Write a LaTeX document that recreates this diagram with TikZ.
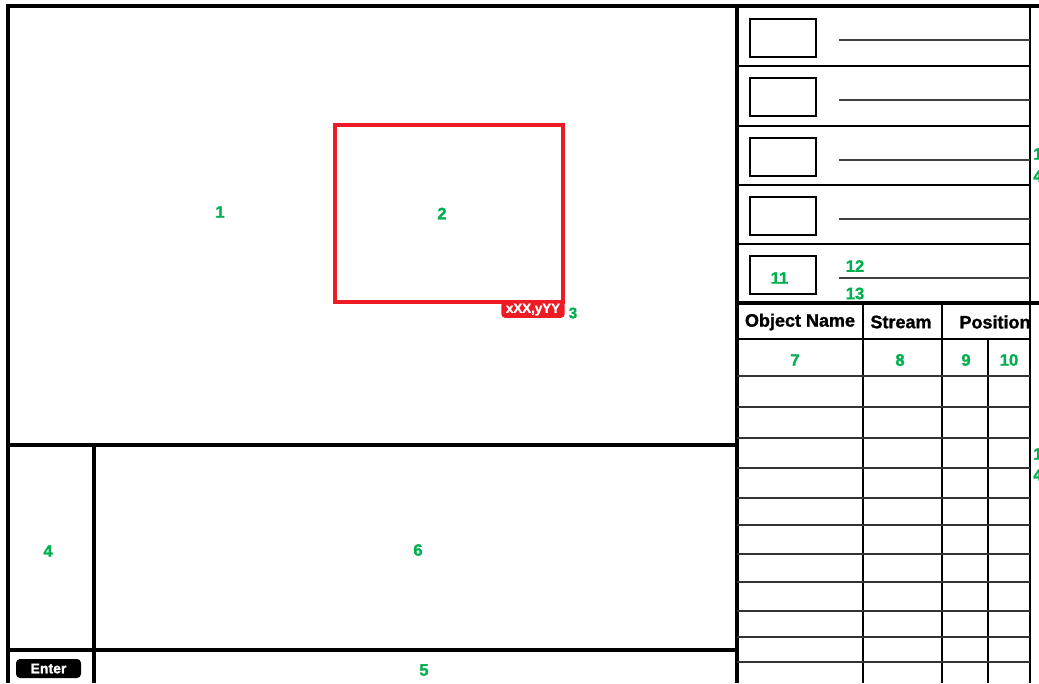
\documentclass[tikz,border=0pt]{standalone}
\usepackage{fontspec}
\setmainfont{Liberation Sans}
\newfontfamily\heavyfont{Liberation Sans}[BoldFeatures={FakeBold=1.2}]
\definecolor{lblgreen}{RGB}{0,176,80}
\definecolor{boxred}{RGB}{237,28,36}
\begin{document}
\begin{tikzpicture}[x=0.75pt,y=-0.75pt,
  thickline/.style={line width=2.4pt,black},
  medline/.style={line width=1.8pt,black},
  thinline/.style={line width=0.9pt,black!75},
  rowline/.style={line width=1.2pt,black!80},
  smallbox/.style={draw,line width=1.8pt},
  num/.style={text=lblgreen,font=\heavyfont\fontsize{12.5}{14}\selectfont\bfseries,inner sep=0pt},
  head/.style={font=\heavyfont\fontsize{13.5}{16}\selectfont\bfseries,inner sep=0pt},
  ]
\useasboundingbox[fill=white] (0,0) rectangle (1039,683);
% main frame
\draw[thickline] (8,683) -- (8,6) -- (1039,6);
\draw[thickline] (737,6) -- (737,683);
\draw[thickline] (8,445) -- (737,445);
\draw[thickline] (8,650) -- (737,650);
\draw[thickline] (94,445) -- (94,683);
% right panel
\draw[medline] (1030,6) -- (1030,683);
\foreach \yy in {66,126,185,244}
  \draw[medline] (737,\yy) -- (1030,\yy);
\draw[thickline] (737,303) -- (1039,303);
\draw[medline] (737,339) -- (1030,339);
\draw[medline] (863,303) -- (863,683);
\draw[medline] (942,303) -- (942,683);
\draw[medline] (988,339) -- (988,683);
\foreach \yy in {376,407,438,468,498,525,554,582,611,637,662}
  \draw[rowline] (737,\yy) -- (1030,\yy);
\foreach \yy in {19,78,138,197,256}
  \draw[smallbox] (750,\yy) rectangle (816,\yy+38);
\foreach \yy in {40,100,160,219,278}
  \draw[thinline] (839,\yy) -- (1030,\yy);
% red selection box
\draw[boxred,line width=3pt] (335,125) rectangle (563,302);
\node[fill=boxred,rounded corners=3pt,text=white,font=\heavyfont\fontsize{10}{12}\selectfont\bfseries,
      inner xsep=3.5pt,inner ysep=0pt,minimum height=12.5pt,anchor=north east] (coord) at (565,301) {xXX,yYY};
\node[num,font=\heavyfont\fontsize{11.5}{13}\selectfont\bfseries] (n3) at (573,313) {3};
% enter button
\node[fill=black,rounded corners=3pt,text=white,font=\heavyfont\fontsize{10.5}{12}\selectfont\bfseries,
      minimum width=48.75pt,minimum height=14.25pt,inner sep=0pt] (enter) at (48.5,668.5) {Enter};
% table header
\node[head] (hobj) at (800,322) {Object Name};
\node[head] (hstr) at (901,322) {Stream};
\node[head] (hpos) at (995,322) {Position};
% green labels
\node[num] (n1) at (220,212) {1};
\node[num] (n2) at (442,213.5) {2};
\node[num] (n4) at (48,551) {4};
\node[num] (n6) at (418,550) {6};
\node[num] (n5) at (424,670) {5};
\node[num] (n7) at (795,360) {7};
\node[num] (n8) at (900,360) {8};
\node[num] (n9) at (966,360) {9};
\node[num] (n10) at (1009,360) {10};
\node[num] (n11) at (779.5,278) {11};
\node[num] (n12) at (855,266) {12};
\node[num] (n13) at (855,293.5) {13};
\node[num,anchor=west] (e1a) at (1033,154) {1};
\node[num,anchor=west] (e1b) at (1033,176) {4};
\node[num,anchor=west] (e2a) at (1033,454) {1};
\node[num,anchor=west] (e2b) at (1033,475) {4};
\end{tikzpicture}
\end{document}
